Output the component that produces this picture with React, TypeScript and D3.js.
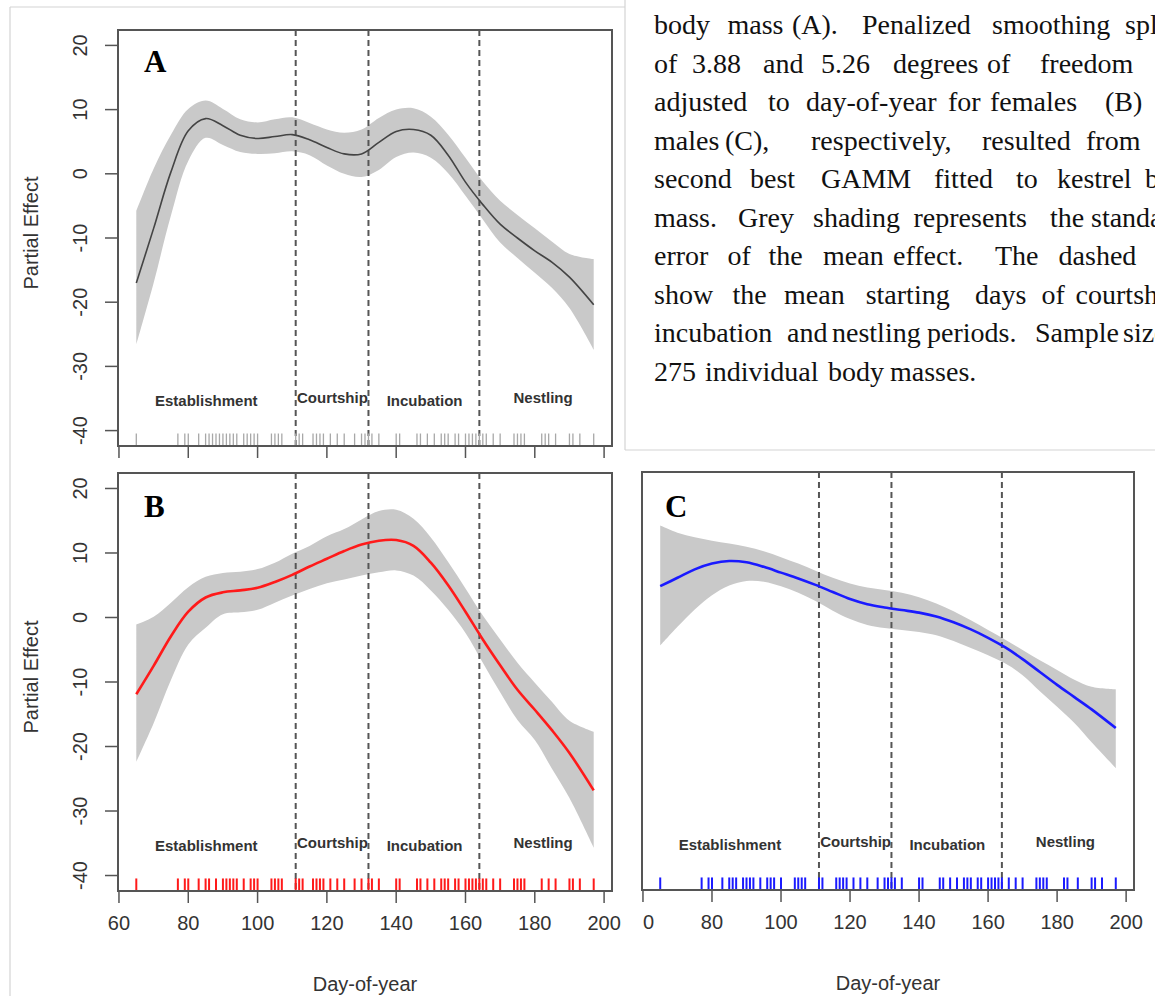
import React from 'react';
import * as d3 from 'd3';

// ---------- data ----------
const days = [65, 70, 75, 80, 85, 90, 95, 100, 105, 110, 115, 120, 125, 130, 135, 140, 145, 150, 155, 160, 165, 170, 175, 180, 185, 190, 197];

const fitA = [-17.0, -8.5, 0.3, 6.7, 8.6, 7.5, 6.0, 5.5, 5.8, 6.1, 5.3, 4.1, 3.1, 3.1, 4.9, 6.6, 6.9, 6.0, 2.9, -1.3, -4.8, -7.85, -10.0, -12.0, -13.8, -16.1, -20.4];
const upperA = [-5.8, 0.8, 6.1, 10.1, 11.4, 10.1, 8.5, 8.0, 8.5, 8.8, 7.9, 6.9, 6.4, 6.9, 8.7, 10.0, 10.2, 8.9, 6.1, 2.5, -1.2, -4.2, -6.4, -8.5, -10.6, -12.5, -13.3];
const lowerA = [-26.6, -17.0, -6.5, 2.0, 5.6, 4.5, 3.4, 3.1, 3.2, 3.5, 2.9, 1.3, 0.0, -0.5, 0.6, 2.6, 3.3, 2.5, 0.1, -3.4, -7.1, -10.7, -13.1, -15.4, -17.8, -20.9, -27.4];

const fitB = [-11.9, -7.5, -2.9, 0.9, 3.1, 3.9, 4.2, 4.6, 5.5, 6.6, 7.9, 9.1, 10.3, 11.3, 11.9, 12.0, 11.1, 8.5, 5.0, 0.9, -3.4, -7.4, -11.2, -14.3, -17.5, -21.0, -26.8];
const upperB = [-1.1, 0.1, 2.3, 4.7, 6.3, 6.9, 7.1, 7.5, 8.5, 9.9, 11.1, 12.6, 13.7, 15.2, 16.5, 16.7, 15.3, 12.4, 8.6, 4.5, 0.3, -3.4, -7.0, -10.1, -13.1, -16.0, -17.7];
const lowerB = [-22.4, -16.4, -9.7, -4.2, -1.6, 0.5, 0.8, 1.2, 2.3, 3.4, 4.4, 5.3, 5.9, 6.5, 7.0, 7.3, 6.5, 4.2, 1.2, -2.4, -7.0, -11.6, -15.9, -19.0, -23.5, -28.0, -35.7];

const fitC = [4.7, 6.0, 7.3, 8.2, 8.6, 8.4, 7.7, 6.8, 5.9, 4.9, 3.8, 2.7, 1.9, 1.4, 1.0, 0.6, 0.0, -0.9, -2.0, -3.3, -4.8, -6.6, -8.6, -10.6, -12.5, -14.4, -17.3];
const upperC = [14.1, 13.0, 12.3, 11.75, 11.3, 10.8, 10.1, 9.2, 8.2, 7.1, 6.0, 5.1, 4.5, 4.1, 3.7, 3.0, 2.0, 0.8, -0.6, -2.1, -3.6, -5.2, -6.8, -8.3, -9.8, -10.9, -11.3];
const lowerC = [-4.5, -1.6, 1.1, 3.3, 4.8, 5.5, 5.4, 4.7, 3.7, 2.4, 0.9, -0.4, -1.3, -1.8, -2.1, -2.4, -2.9, -3.8, -4.9, -6.0, -7.3, -9.1, -11.6, -14.0, -16.5, -19.5, -23.5];

const rugB = [65, 77, 79, 80, 83, 85, 86, 88, 90, 91, 92, 93, 94, 96, 98, 99, 100, 104, 105, 106, 107, 111, 112, 113, 116, 117, 118, 119, 121, 123, 125, 128, 130, 132, 133, 135, 140, 141, 146, 147, 149, 151, 153, 154, 155, 157, 158, 160, 161, 162, 163, 164, 165, 166, 168, 170, 174, 175, 176, 177, 182, 184, 186, 190, 191, 193, 197];
const rugC = [65, 77, 79, 80, 83, 85, 86, 87, 89, 90, 91, 92, 94, 96, 97, 98, 100, 104, 105, 106, 107, 111, 112, 116, 117, 118, 119, 121, 123, 125, 128, 130, 131, 132, 133, 135, 140, 141, 146, 147, 149, 151, 153, 154, 155, 157, 158, 160, 161, 162, 163, 164, 166, 168, 170, 174, 175, 176, 177, 182, 183, 186, 190, 191, 193, 197];
const rugA = Array.from(new Set([...rugB, ...rugC])).sort((a, b) => a - b);

const phaseStarts = [111, 132, 164];
const phaseLabels = ['Establishment', 'Courtship', 'Incubation', 'Nestling'];
const phaseLabelDay = [85.2, 121.6, 148.2, 182.4];
const phaseLabelY = [-36.2, -35.7, -36.2, -35.7];

const xTicks = [60, 80, 100, 120, 140, 160, 180, 200];
const yTicks = [-40, -30, -20, -10, 0, 10, 20];
const xLim: [number, number] = [59.72, 202.28];
const yLim: [number, number] = [-42.4, 22.4];

const captionLines: [string, number][][] = [
  [['body', 654], ['mass', 727.5], ['(A).', 792], ['Penalized', 862], ['smoothing', 992], ['splines', 1125]],
  [['of', 654], ['3.88', 692], ['and', 763], ['5.26', 821], ['degrees', 893], ['of', 987], ['freedom', 1040]],
  [['adjusted', 654], ['to', 768], ['day-of-year', 806], ['for', 948], ['females', 990], ['(B)', 1105]],
  [['males', 654], ['(C),', 725], ['respectively,', 811], ['resulted', 982], ['from', 1086]],
  [['second', 654], ['best', 750], ['GAMM', 821], ['fitted', 934], ['to', 1016], ['kestrel', 1057], ['body', 1145]],
  [['mass.', 654], ['Grey', 738], ['shading', 813], ['represents', 913.5], ['the', 1050], ['standard', 1091]],
  [['error', 654], ['of', 727.5], ['the', 768.5], ['mean', 823], ['effect.', 893], ['The', 995], ['dashed', 1058.6]],
  [['show', 654], ['the', 732.6], ['mean', 784], ['starting', 865.7], ['days', 975], ['of', 1041.5], ['courtship,', 1075.6]],
  [['incubation', 654], ['and', 787], ['nestling', 832], ['periods.', 927], ['Sample', 1035], ['size', 1123]],
  [['275', 654], ['individual', 705], ['body', 828], ['masses.', 890]],
];

// ---------- drawing ----------
const SANS = "'Liberation Sans', Arial, Helvetica, sans-serif";
const SERIF = "'Liberation Serif', 'Times New Roman', serif";
const INK = '#333';

type Box = { x0: number; x1: number; y0: number; y1: number };

type PanelProps = {
  box: Box;
  fit: number[];
  upper: number[];
  lower: number[];
  rug: number[];
  lineColor: string;
  lineWidth: number;
  rugColor: string;
  rugWidth: number;
  label: string;
  labelPos: [number, number];
  showY: boolean;
  showXLabels: boolean;
  xLabelClip?: number;
  id: string;
};

function Panel(p: PanelProps) {
  const { box } = p;
  const x = d3.scaleLinear().domain(xLim).range([box.x0, box.x1]);
  const y = d3.scaleLinear().domain(yLim).range([box.y1, box.y0]);
  const pts = days.map((d, i) => ({ d, f: p.fit[i], u: p.upper[i], l: p.lower[i] }));
  const curve = d3.curveCatmullRom.alpha(0.5);
  const area = d3.area<any>().x((q) => x(q.d)).y0((q) => y(q.l)).y1((q) => y(q.u)).curve(curve);
  const line = d3.line<any>().x((q) => x(q.d)).y((q) => y(q.f)).curve(curve);
  const rugLen = 0.03 * (box.y1 - box.y0);
  const tickLen = 12;
  return (
    <g>
      <path d={area(pts) || ''} fill="#c9c9c9" stroke="none" />
      {phaseStarts.map((d) => (
        <line key={d} x1={x(d)} x2={x(d)} y1={box.y0} y2={box.y1} stroke="#555" strokeWidth={2} strokeDasharray="6,4" />
      ))}
      <path d={line(pts) || ''} fill="none" stroke={p.lineColor} strokeWidth={p.lineWidth} />
      {phaseLabels.map((t, i) => (
        <text key={t} x={x(phaseLabelDay[i])} y={y(phaseLabelY[i])} textAnchor="middle" fontFamily={SANS} fontWeight="bold" fontSize={15} fill={INK}>
          {t}
        </text>
      ))}
      {p.rug.map((d) => (
        <line key={d} x1={x(d)} x2={x(d)} y1={box.y1} y2={box.y1 - rugLen} stroke={p.rugColor} strokeWidth={p.rugWidth} />
      ))}
      <text x={p.labelPos[0]} y={p.labelPos[1]} fontFamily={SERIF} fontWeight="bold" fontSize={31} fill="#000">
        {p.label}
      </text>
      <rect x={box.x0} y={box.y0} width={box.x1 - box.x0} height={box.y1 - box.y0} fill="none" stroke="#555" strokeWidth={2} />
      {xTicks.map((t) => (
        <line key={t} x1={x(t)} x2={x(t)} y1={box.y1} y2={box.y1 + tickLen} stroke="#555" strokeWidth={1.5} />
      ))}
      {p.showXLabels && (
        <g clipPath={p.xLabelClip !== undefined ? `url(#${p.id}-clip)` : undefined}>
          {p.xLabelClip !== undefined && (
            <defs>
              <clipPath id={`${p.id}-clip`}>
                <rect x={p.xLabelClip} y={box.y1} width={1200} height={120} />
              </clipPath>
            </defs>
          )}
          {xTicks.map((t) => (
            <text key={t} x={x(t)} y={box.y1 + 39} textAnchor="middle" fontFamily={SANS} fontSize={20} fill={INK}>
              {t}
            </text>
          ))}
        </g>
      )}
      {p.showXLabels && (
        <text x={(box.x0 + box.x1) / 2} y={box.y1 + 100} textAnchor="middle" fontFamily={SANS} fontSize={20} fill={INK}>
          Day-of-year
        </text>
      )}
      {p.showY && (
        <g>
          {yTicks.map((t) => (
            <g key={t}>
              <line x1={box.x0} x2={box.x0 - 13} y1={y(t)} y2={y(t)} stroke="#555" strokeWidth={1.5} />
              <text transform={`translate(${box.x0 - 31},${y(t)}) rotate(-90)`} textAnchor="middle" fontFamily={SANS} fontSize={20} fill={INK}>
                {t}
              </text>
            </g>
          ))}
          <text transform={`translate(38,${(box.y0 + box.y1) / 2 - 5}) rotate(-90)`} textAnchor="middle" fontFamily={SANS} fontSize={20} fill={INK}>
            Partial Effect
          </text>
        </g>
      )}
    </g>
  );
}

export default function App() {
  const W = 1155;
  const H = 996;
  return (
    <svg width={W} height={H} style={{ position: 'absolute', left: 0, top: 0, background: '#fff' }}>
      <rect x={0} y={0} width={W} height={H} fill="#fff" />
      {/* composite borders */}
      <line x1={10} x2={10} y1={7} y2={H} stroke="#d4d4d4" strokeWidth={1.2} />
      <line x1={10} x2={625} y1={7} y2={7} stroke="#d4d4d4" strokeWidth={1.2} />
      <line x1={625} x2={625} y1={0} y2={450} stroke="#d4d4d4" strokeWidth={1.2} />
      <line x1={625} x2={W} y1={450} y2={450} stroke="#d4d4d4" strokeWidth={1.2} />

      {/* caption text */}
      <g fontFamily={SERIF} fontSize={28} fill="#111">
        {captionLines.map((words, li) =>
          words.map(([w, xx], wi) => (
            <text key={`${li}-${wi}`} x={xx} y={34 + 38.5 * li}>
              {w}
            </text>
          ))
        )}
      </g>

      <Panel id="A" box={{ x0: 118, x1: 612, y0: 30, y1: 446 }} fit={fitA} upper={upperA} lower={lowerA} rug={rugA}
        lineColor="#444" lineWidth={1.6} rugColor="#a8a8a8" rugWidth={1.3} label="A" labelPos={[144, 71.5]}
        showY={true} showXLabels={false} />
      <Panel id="B" box={{ x0: 118, x1: 612, y0: 473, y1: 891 }} fit={fitB} upper={upperB} lower={lowerB} rug={rugB}
        lineColor="#ff1a1a" lineWidth={2.6} rugColor="#ff1a1a" rugWidth={2} label="B" labelPos={[144, 517]}
        showY={true} showXLabels={true} />
      <Panel id="C" box={{ x0: 642, x1: 1134, y0: 472, y1: 890 }} fit={fitC} upper={upperC} lower={lowerC} rug={rugC}
        lineColor="#1a1aff" lineWidth={2.6} rugColor="#1a1aff" rugWidth={2} label="C" labelPos={[665, 517]}
        showY={false} showXLabels={true} xLabelClip={643} />
    </svg>
  );
}
